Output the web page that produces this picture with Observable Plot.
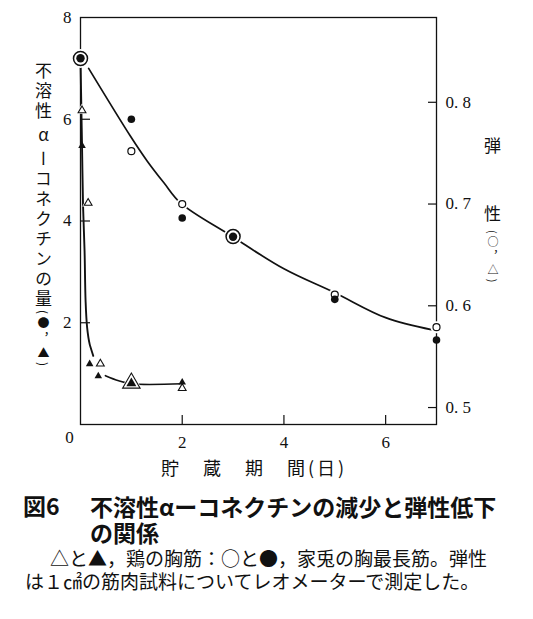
<!DOCTYPE html>
<html><head><meta charset="utf-8">
<script src="https://cdn.jsdelivr.net/npm/d3@7"></script>
<script src="https://cdn.jsdelivr.net/npm/@observablehq/plot@0.6"></script>
<style>
body{margin:0;background:#fff;}
#wrap{position:relative;width:533px;height:619px;overflow:hidden;font-family:"Noto Sans CJK JP",sans-serif;color:#111;}
#chart{position:absolute;left:0;top:0;}
.abs{position:absolute;white-space:nowrap;}
.vert{writing-mode:vertical-rl;}
</style></head><body><div id="wrap"><div id="chart"></div></div>
<script>
// ---- data ----
const days = [0, 1, 2, 3, 5, 7];
const rabbitCollagen = [7.2, 6.0, 4.06, 3.69, 2.46, 1.66];        // ● left axis
const rabbitElasticity = [0.843, 0.752, 0.700, 0.668, 0.611, 0.579]; // ○ right axis
const chickenCollagenDays = [0.03, 0.18, 0.35, 1, 2];
const chickenCollagen = [5.48, 1.19, 0.95, 0.81, 0.83];             // ▲ left axis
const chickenElasticityDays = [0.03, 0.15, 0.39, 1, 2];
const chickenElasticity = [0.792, 0.701, 0.543, 0.524, 0.519];      // △ right axis
// hand-drawn fitted curves (left-axis units)
const rabbitCurveX = [0.16, 0.98, 1.31, 1.64, 1.97, 2.96, 4, 5, 6, 6.92];
const rabbitCurveY = [7.0, 5.67, 5.18, 4.75, 4.35, 3.71, 3.06, 2.59, 2.10, 1.86];
const chickenCurve1X = [0, 0.01, 0.03, 0.05, 0.08, 0.10, 0.13, 0.18, 0.25];
const chickenCurve1Y = [7.2, 6.6, 5.48, 4.3, 3.41, 2.43, 1.91, 1.58, 1.35];
const chickenCurve2X = [0.49, 0.75, 1, 2];
const chickenCurve2Y = [0.96, 0.86, 0.80, 0.80];
// ticks
const xTicks = [2, 4, 6];
const yTicks = [2, 4, 6, 8];
const eTicks = [0.5, 0.6, 0.7, 0.8];
const eTickLabels = ["0. 5", "0. 6", "0. 7", "0. 8"];
// right axis mapping: elasticity = E0 + left / EK
const E0 = 0.48333, EK = 20;
const toLeft = e => (e - E0) * EK;

// ---- build ----
const W = 533, H = 462, mL = 80, mR = 97, mT = 17, mB = 38;
const pw = W - mL - mR, ph = H - mT - mB;
const ink = "#111";
const serif = "'Liberation Serif', 'DejaVu Serif', serif";

const rabbit = days.map((x, i) => {
  const c = rabbitCollagen[i], e = toLeft(rabbitElasticity[i]);
  return {x, c, e, both: Math.abs(c - e) < 0.06};
});
const chC = chickenCollagenDays.map((x, i) => ({x, y: chickenCollagen[i]}));
const chE = chickenElasticityDays.map((x, i) => ({x, y: toLeft(chickenElasticity[i])}));
chC.forEach(p => p.both = chE.some(q => q.x === p.x && Math.abs(q.y - p.y) < 0.06));
chE.forEach(p => p.both = chC.some(q => q.x === p.x && Math.abs(q.y - p.y) < 0.06));

const pts = (xs, ys) => xs.map((x, i) => ({x, y: ys[i]}));
const txt = {fontFamily: serif, fontSize: 17, fill: ink};

const plot = Plot.plot({
  width: W, height: H,
  marginLeft: mL, marginRight: mR, marginTop: mT, marginBottom: mB,
  x: {domain: [0, 7]},
  y: {domain: [0, 8]},
  r: {type: "identity"},
  style: {fontFamily: serif, fontSize: "17px", color: ink, background: "white"},
  marks: [
    Plot.frame({stroke: ink, strokeWidth: 1.3}),
    Plot.tickY(yTicks.filter(t => t < 8), {y: d => d, insetRight: pw - 10, stroke: ink, strokeWidth: 1.2}),
    Plot.tickY(eTicks.map(toLeft), {y: d => d, insetLeft: pw - 8, stroke: ink, strokeWidth: 1.2}),
    Plot.tickX(xTicks, {x: d => d, insetTop: ph - 9, stroke: ink, strokeWidth: 1.2}),
    Plot.axisX({ticks: xTicks, tickSize: 0, tickPadding: 11, label: null, tickFormat: d => String(d), ...txt}),
    Plot.axisY({ticks: yTicks, tickSize: 0, tickPadding: 9, label: null, tickFormat: d => String(d), ...txt}),
    Plot.axisY({anchor: "right", ticks: eTicks.map(toLeft), tickSize: 0, tickPadding: 9, label: null, ...txt,
      tickFormat: d => eTickLabels[eTicks.findIndex(e => Math.abs(toLeft(e) - d) < 1e-6)]}),
    Plot.text(["0"], {frameAnchor: "bottom-left", textAnchor: "middle", lineAnchor: "middle", dx: -11, dy: 13, ...txt}),
    // curves
    Plot.line(pts(rabbitCurveX, rabbitCurveY), {x: "x", y: "y", curve: "catmull-rom", stroke: ink, strokeWidth: 1.7}),
    Plot.line(pts(chickenCurve1X, chickenCurve1Y), {x: "x", y: "y", curve: "catmull-rom", stroke: ink, strokeWidth: 1.9}),
    Plot.line(pts(chickenCurve2X, chickenCurve2Y), {x: "x", y: "y", curve: "catmull-rom", stroke: ink, strokeWidth: 1.6}),
    // halos for open markers
    Plot.dot(rabbit, {x: "x", y: "e", r: d => (d.both ? 7 : 3.5) + 2.5, fill: "white"}),
    Plot.dot(chE, {x: "x", y: "y", symbol: "triangle", r: d => (d.both ? 6.5 : 2.9) + 1.5, fill: "white"}),
    // open markers (elasticity)
    Plot.dot(rabbit, {x: "x", y: "e", r: d => d.both ? 7 : 3.5, fill: "white", stroke: ink, strokeWidth: d => d.both ? 1.5 : 1.2}),
    Plot.dot(chE, {x: "x", y: "y", symbol: "triangle", r: d => d.both ? 6.5 : 2.9, fill: "white", stroke: ink, strokeWidth: 1.1}),
    // filled markers (collagen)
    Plot.dot(rabbit, {x: "x", y: "c", r: d => d.both ? 4.2 : 3.8, fill: ink}),
    Plot.dot(chC, {x: "x", y: "y", symbol: "triangle", r: d => d.both ? 3.7 : 2.8, fill: ink})
  ]
});
document.getElementById("chart").appendChild(plot);

// ---- text overlays ----
const wrap = document.getElementById("wrap");
function add(html, css, cls = "abs") {
  const d = document.createElement("div");
  d.className = cls; d.innerHTML = html; d.style.cssText = css; wrap.appendChild(d);
}
add('不溶性<span style="text-orientation:upright;margin:4px 0">α</span>ーコネクチンの量', "left:33px;top:62px;font-size:17px;line-height:20px;letter-spacing:3px;", "abs vert");
add('(●，▲)', "left:36px;top:310px;font-size:12px;line-height:14px;letter-spacing:3px;", "abs vert");
add('弾', "left:484px;top:135px;font-size:17px;line-height:20px;");
add('性', "left:484px;top:203px;font-size:17px;line-height:20px;");
add('(○，△)', "left:486px;top:230px;font-size:11px;line-height:13px;letter-spacing:3px;", "abs vert");
add('貯　蔵　期　間(日)', "left:161px;top:456px;font-size:18px;line-height:22px;letter-spacing:3px;");
add('図6', "left:23px;top:493px;font-size:23px;line-height:25px;font-weight:bold;");
add('不溶性αーコネクチンの減少と弾性低下<br>の関係', "left:90px;top:493px;font-size:23px;line-height:26px;font-weight:bold;");
add('△と▲，鶏の胸筋：○と●，家兎の胸最長筋。弾性<br>は１㎠の筋肉試料についてレオメーターで測定した。', "left:25px;top:546px;font-size:19px;line-height:23px;text-indent:25px;");
</script></body></html>
